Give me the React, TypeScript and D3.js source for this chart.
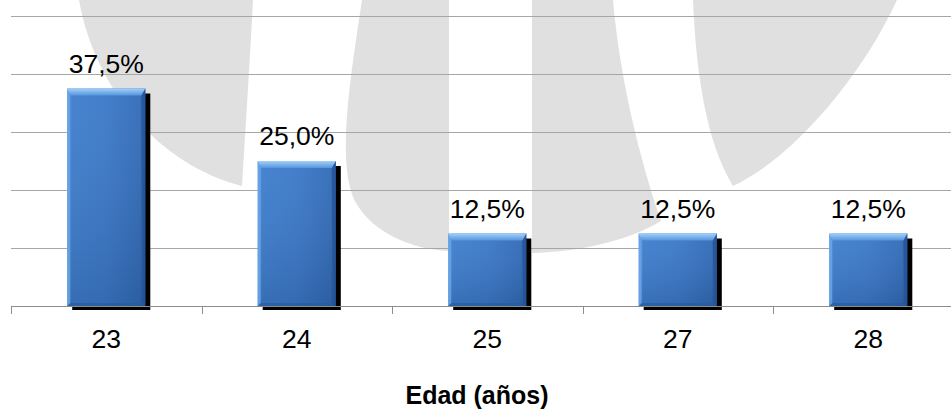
import React from 'react';
import * as d3 from 'd3';

// chart data
const categories = ['23', '24', '25', '27', '28'];
const values = [37.5, 25.0, 12.5, 12.5, 12.5];
const gridTicks = [10, 20, 30, 40, 50];
const axisTitle = 'Edad (años)';

const W = 951;
const H = 411;
const plot = { left: 11, right: 963.5, top: 16, bottom: 306 };

const esLocale = d3.formatLocale({ decimal: ',', thousands: '.', grouping: [3], currency: ['', '€'] });
const fmtPct = (v: number) => esLocale.format('.1f')(v) + '%';

// light grey watermark behind the plot (decoration only)
const watermark = [
  'M79,0 C95,90 160,165 242,186 C246,120 250,60 253,0 Z',
  'M362,0 C350,80 336,165 356,203 C374,233 410,249 449,251 L449,0 Z',
  'M532,0 L532,253 C580,252 630,240 661,221 C640,160 620,80 613,0 Z',
  'M693,0 C696,70 705,140 733,186 C790,160 860,80 897,0 Z',
];

const App: React.FC = () => {
  const x = d3.scaleBand<string>().domain(categories).range([plot.left, plot.right]).padding(0);
  const y = d3.scaleLinear().domain([0, 50]).range([plot.bottom, plot.top]);
  const bw = x.bandwidth() * 0.41;
  const bevel = 7;
  const font = "'Liberation Sans', Arial, Helvetica, sans-serif";

  return (
    <svg width={W} height={H} style={{ position: 'absolute', left: 0, top: 0, background: '#fff' }}>
      <defs>
        <linearGradient id="body" x1="0" x2="1" y1="0" y2="0">
          <stop offset="0" stopColor="#5592dc" />
          <stop offset="0.06" stopColor="#3d7dcd" />
          <stop offset="0.5" stopColor="#3a78c8" />
          <stop offset="0.93" stopColor="#316bb8" />
          <stop offset="1" stopColor="#24559a" />
        </linearGradient>
        <linearGradient id="shade" x1="0" x2="0" y1="0" y2="1">
          <stop offset="0" stopColor="#ffffff" stopOpacity="0.05" />
          <stop offset="1" stopColor="#000000" stopOpacity="0.12" />
        </linearGradient>
        <linearGradient id="topBevel" x1="0" x2="0" y1="0" y2="1">
          <stop offset="0" stopColor="#a4d0f7" />
          <stop offset="1" stopColor="#5595df" />
        </linearGradient>
        <filter id="soft" x="-10%" y="-10%" width="120%" height="120%">
          <feGaussianBlur stdDeviation="0.7" />
        </filter>
      </defs>

      <g fill="#e0e0e0">
        {watermark.map((d, i) => <path key={i} d={d} />)}
      </g>

      {/* gridlines */}
      <g stroke="#a6a6a6" strokeWidth={1}>
        {gridTicks.map(t => (
          <line key={t} x1={plot.left} x2={W} y1={Math.round(y(t)) + 0.5} y2={Math.round(y(t)) + 0.5} />
        ))}
      </g>

      {/* bars */}
      {categories.map((c, i) => {
        const cx = (x(c) as number) + x.bandwidth() / 2;
        const x0 = cx - bw / 2;
        const x1 = cx + bw / 2;
        const y0 = y(values[i]);
        const y1 = y(0);
        return (
          <g key={c}>
            <rect x={x0 + 5} y={y0 + 5} width={bw} height={y1 - y0 - 1} fill="#000" filter="url(#soft)" />
            <rect x={x0} y={y0} width={bw} height={y1 - y0} fill="url(#body)" />
            <rect x={x0} y={y0} width={bw} height={y1 - y0} fill="url(#shade)" />
            <polygon
              points={`${x0},${y1} ${x0 + 3},${y1 - 3} ${x1 - 3},${y1 - 3} ${x1},${y1}`}
              fill="#2a5a9e" opacity={0.7}
            />
            <polygon
              points={`${x1},${y0} ${x1},${y1} ${x1 - 3},${y1 - 3} ${x1 - 4},${y0 + bevel}`}
              fill="#24549a" opacity={0.8}
            />
            <polygon
              points={`${x0},${y0} ${x0 + 3},${y0 + bevel} ${x0 + 3},${y1 - 3} ${x0},${y1}`}
              fill="#6aa6e8" opacity={0.8}
            />
            <polygon
              points={`${x0},${y0} ${x1},${y0} ${x1 - 4},${y0 + bevel} ${x0 + 3},${y0 + bevel}`}
              fill="url(#topBevel)"
            />
            <text
              x={cx} y={y0 - 16} textAnchor="middle"
              fontFamily={font} fontSize={26.5} fill="#000"
            >
              {fmtPct(values[i])}
            </text>
          </g>
        );
      })}

      {/* category axis */}
      <line x1={plot.left} x2={W} y1={plot.bottom + 0.5} y2={plot.bottom + 0.5} stroke="#8c8c8c" />
      <g stroke="#8c8c8c">
        {[...categories.map(c => x(c) as number), plot.right].map((t, i) => (
          <line key={i} x1={Math.round(t) + 0.5} x2={Math.round(t) + 0.5} y1={plot.bottom} y2={plot.bottom + 8} />
        ))}
      </g>
      {categories.map(c => (
        <text
          key={c} x={(x(c) as number) + x.bandwidth() / 2} y={348} textAnchor="middle"
          fontFamily={font} fontSize={26.5} fill="#000"
        >
          {c}
        </text>
      ))}

      <text x={477} y={404} textAnchor="middle" fontFamily={font} fontSize={25} fontWeight="bold" fill="#000">
        {axisTitle}
      </text>
    </svg>
  );
};

export default App;
